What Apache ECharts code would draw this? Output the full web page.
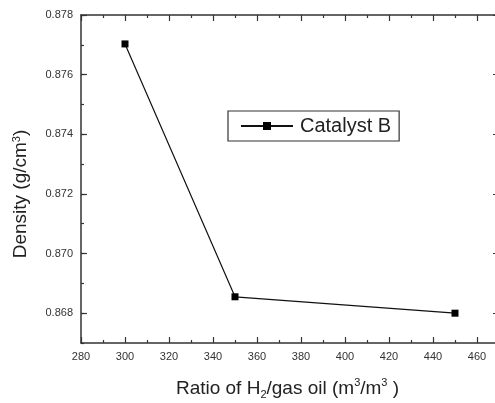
<!DOCTYPE html>
<html>
<head>
<meta charset="utf-8">
<script src="https://cdn.jsdelivr.net/npm/echarts@6/dist/echarts.min.js"></script>
<style>html,body{margin:0;padding:0;background:#fff}#c{width:495px;height:403px}</style>
</head>
<body>
<div id="c"></div>
<script>
const ratios = [300, 350, 450];
const densities = [0.87703, 0.86855, 0.86800];
const seriesName = 'Catalyst B';
const xTicks = [280, 300, 320, 340, 360, 380, 400, 420, 440, 460];
const yTicks = [0.868, 0.870, 0.872, 0.874, 0.876, 0.878];

const chart = echarts.init(document.getElementById('c'), null, {renderer: 'canvas'});
const axisCol = '#333';
const font = 'Arial, "Liberation Sans", sans-serif';
const yMin = 0.867, yMax = 0.878;
const lineOn = {show: true, onZero: false, lineStyle: {color: axisCol, width: 1.5}};
const tickMajor = {show: true, inside: true, length: 6, lineStyle: {color: axisCol, width: 1.2}};
const xCommon = {
  type: 'value', min: 280, max: 470, interval: 20,
  axisLine: lineOn, axisTick: tickMajor,
  minorTick: {show: true, splitNumber: 2, length: 3, lineStyle: {color: axisCol, width: 1.2}},
  splitLine: {show: false}
};
const yMajor = {
  type: 'value', min: yMin, max: yMax, interval: 0.001,
  axisLine: lineOn,
  axisTick: Object.assign({customValues: yTicks}, tickMajor),
  splitLine: {show: false}
};
const yMinor = {
  type: 'value', min: yMin, max: yMax, interval: 0.001,
  axisLine: {show: false},
  axisTick: {show: true, inside: true, length: 3, lineStyle: {color: axisCol, width: 1.2}},
  axisLabel: {show: false},
  splitLine: {show: false}
};
chart.setOption({
  animation: false,
  backgroundColor: '#fff',
  grid: {left: 81, top: 15, width: 418, bottom: 60, containLabel: false, outerBoundsMode: 'none'},
  legend: {
    data: [seriesName], left: 228, top: 111,
    borderColor: '#333', borderWidth: 1.2, borderRadius: 0,
    padding: [5, 8, 5, 12], itemWidth: 52, itemHeight: 10, itemGap: 5,
    textStyle: {fontFamily: font, fontSize: 20, color: '#222', padding: [0, 0, 0, 2]}
  },
  xAxis: [
    Object.assign({
      axisLabel: {color: '#333', fontFamily: font, fontSize: 11, margin: 8,
        formatter: v => xTicks.includes(v) ? String(v) : ''},
      name: '{a|Ratio of H}{s|2}{a|/gas oil (m}{p|3}{a|/m}{p|3}{a| )}',
      nameLocation: 'middle', nameGap: 34,
      nameTextStyle: {padding: [0, 5, 0, 0], rich: {
        a: {fontFamily: font, fontSize: 19, color: '#222'},
        s: {fontFamily: font, fontSize: 11, color: '#222', verticalAlign: 'bottom', padding: [12, 0, 0, 0]},
        p: {fontFamily: font, fontSize: 11, color: '#222', verticalAlign: 'top', padding: [0, 0, 9, 0]}
      }}
    }, xCommon),
    Object.assign({position: 'top', axisLabel: {show: false}}, xCommon)
  ],
  yAxis: [
    Object.assign({
      axisLabel: {color: '#333', fontFamily: font, fontSize: 11, margin: 8,
        customValues: yTicks, formatter: v => v.toFixed(3)},
      name: '{a|Density (g/cm}{p|3}{a|)}',
      nameLocation: 'middle', nameGap: 50, nameRotate: 90,
      nameTextStyle: {padding: [0, 30, 0, 0], rich: {
        a: {fontFamily: font, fontSize: 19, color: '#222'},
        p: {fontFamily: font, fontSize: 11, color: '#222', verticalAlign: 'top', padding: [0, 0, 9, 0]}
      }}
    }, yMajor),
    Object.assign({position: 'right', axisLabel: {show: false}}, yMajor),
    Object.assign({position: 'left'}, yMinor),
    Object.assign({position: 'right'}, yMinor)
  ],
  series: [{
    name: seriesName, type: 'line', xAxisIndex: 0, yAxisIndex: 0,
    data: ratios.map((r, i) => [r, densities[i]]),
    symbol: 'rect', symbolSize: 7,
    lineStyle: {color: '#111', width: 1.2},
    itemStyle: {color: '#000'}
  }]
});
</script>
</body>
</html>
